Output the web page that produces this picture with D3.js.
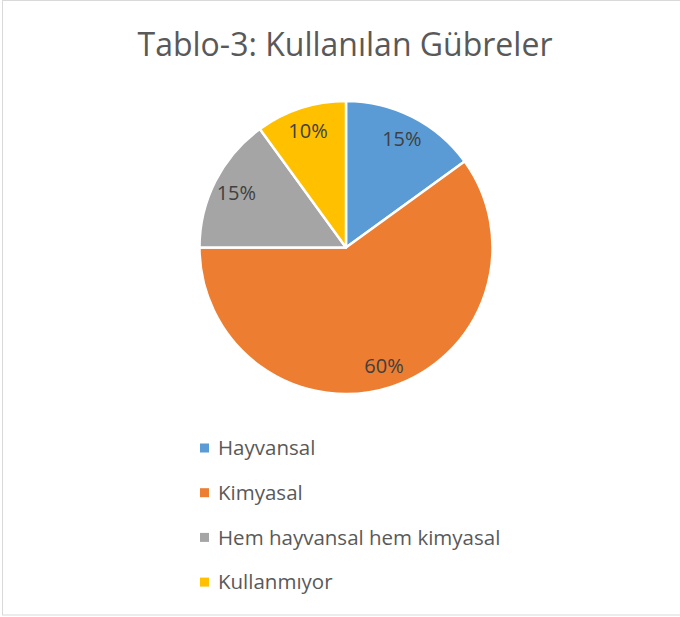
<!DOCTYPE html>
<html>
<head>
<meta charset="utf-8">
<script src="https://cdn.jsdelivr.net/npm/d3@7"></script>
<style>
  body { margin: 0; background: #fff; }
  text { font-family: "Open Sans", sans-serif; }
</style>
</head>
<body>
<div id="chart"></div>
<script>
const width = 680, height = 617;

// data
const title_text = "Tablo-3: Kullanılan Gübreler";
const categories = ["Hayvansal", "Kimyasal", "Hem hayvansal hem kimyasal", "Kullanmıyor"];
const values = [15, 60, 15, 10];
const colors = ["#5B9BD5", "#ED7D31", "#A5A5A5", "#FFC000"];

const cx = 346, cy = 247.5, radius = 146.5;

let svg = d3.select("#chart")
    .append("svg")
    .attr("width", width)
    .attr("height", height);

// chart area border
svg.append("rect")
    .attr("x", 2.5)
    .attr("y", 0.5)
    .attr("width", width + 10)
    .attr("height", 614.5)
    .attr("fill", "white")
    .attr("stroke", "#d9d9d9")
    .attr("stroke-width", 1);

svg.append("text")
    .attr("x", 345)
    .attr("y", 56)
    .attr("text-anchor", "middle")
    .attr("fill", "#595959")
    .style("font-size", "32px")
    .text(title_text);

let data = categories.map((c, i) => ({ name: c, value: values[i] }));

let color = d3.scaleOrdinal()
    .domain(categories)
    .range(colors);

let pie = d3.pie()
    .sort(null)
    .value(d => d.value);

let arc = d3.arc()
    .innerRadius(0)
    .outerRadius(radius);

let labelArc = d3.arc()
    .innerRadius(radius * 0.84)
    .outerRadius(radius * 0.84);

let g = svg.append("g")
    .attr("transform", `translate(${cx}, ${cy})`);

let arcs = pie(data);

g.selectAll("path")
    .data(arcs)
    .enter()
    .append("path")
    .attr("d", arc)
    .attr("fill", d => color(d.data.name))
    .attr("stroke", "white")
    .attr("stroke-width", 2.5)
    .attr("stroke-linejoin", "round");

let total = d3.sum(values);
g.selectAll("text")
    .data(arcs)
    .enter()
    .append("text")
    .attr("transform", d => `translate(${labelArc.centroid(d)})`)
    .attr("text-anchor", "middle")
    .attr("dy", "0.4em")
    .attr("fill", "#404040")
    .style("font-size", "20px")
    .text(d => Math.round(d.data.value / total * 100) + "%");

// legend
let legend = svg.append("g")
    .attr("transform", "translate(200, 448)");

let rows = legend.selectAll("g")
    .data(categories)
    .enter()
    .append("g")
    .attr("transform", (d, i) => `translate(0, ${i * 44.7})`);

rows.append("rect")
    .attr("x", 0)
    .attr("y", -4.5)
    .attr("width", 9)
    .attr("height", 9)
    .attr("fill", d => color(d));

rows.append("text")
    .attr("x", 18)
    .attr("y", 0)
    .attr("dy", "0.36em")
    .attr("fill", "#595959")
    .style("font-size", "20.5px")
    .text(d => d);
</script>
</body>
</html>
